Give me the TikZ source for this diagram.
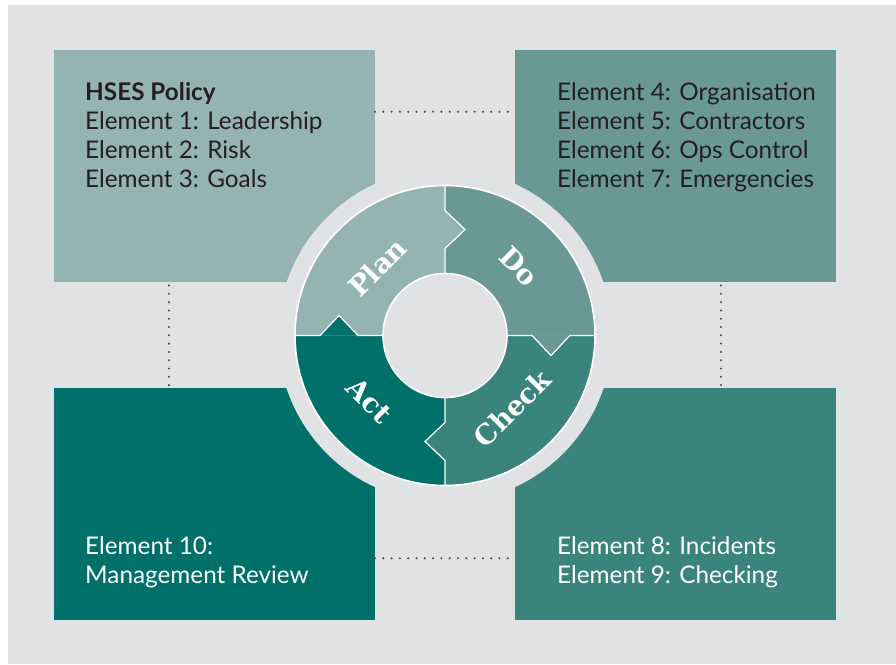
\documentclass[tikz,border=0pt]{standalone}
\usepackage{fontspec}
\setmainfont{Lato}[BoldFont=* Bold]
\newfontfamily\slab{DejaVu Serif}
\usetikzlibrary{calc}

\definecolor{bgc}{HTML}{E1E2E4}
\definecolor{planc}{HTML}{95B3B1}
\definecolor{doc}{HTML}{6A9995}
\definecolor{checkc}{HTML}{3A847D}
\definecolor{actc}{HTML}{00716A}
\definecolor{dotc}{HTML}{4A4A4C}
\definecolor{inkc}{HTML}{231F20}

\begin{document}
\begin{tikzpicture}[x=1pt,y=-1pt,
  box/.style={rectangle, inner sep=0pt, outer sep=0pt, minimum width=321pt,
    minimum height=231.5pt, anchor=north west},
  line/.style={anchor=base west, inner sep=0pt,
    font=\fontsize{24.3}{29}\selectfont},
  stage/.style={text=white, inner sep=0pt,
    font=\slab\bfseries\fontsize{27.5}{27.5}\selectfont},
  dotline/.style={draw=dotc, line width=2.3pt, line cap=round,
    dash pattern=on 0pt off 8.3pt},
  seam/.style={draw=white, line width=1.2pt, line join=miter}
]
% page and backdrop
\useasboundingbox (0,0) rectangle (896,664);
\fill[white] (0,0) rectangle (896,664);
\fill[bgc] (8,5) rectangle (896,664);

% the four element boxes
\node[box, fill=planc]  (tl) at (54,50)    {};
\node[box, fill=doc]    (tr) at (515,50)   {};
\node[box, fill=actc]   (bl) at (54,388)   {};
\node[box, fill=checkc] (br) at (515,388)  {};

% dotted links between the boxes
\draw[dotline] ([yshift=-61.7pt]tl.north east) -- ([yshift=-61.7pt]tr.north west);
\draw[dotline] ([yshift=-170.3pt]bl.north east) -- ([yshift=-170.3pt]br.north west);
\draw[dotline] ([xshift=115pt,yshift=-4pt]tl.south west) -- ([xshift=115pt,yshift=2pt]bl.north west);
\draw[dotline] ([xshift=206pt,yshift=-4pt]tr.south west) -- ([xshift=206pt,yshift=2pt]br.north west);

% box texts
\node[line, text=inkc, font=\bfseries\fontsize{24.3}{29}\selectfont] (p0) at (85,100) {HSES Policy};
\node[line, text=inkc] (p1) at (85,129) {Element 1: Leadership};
\node[line, text=inkc] (p2) at (85,158) {Element 2: Risk};
\node[line, text=inkc] (p3) at (85,187) {Element 3: Goals};

\node[line, text=inkc] (d4) at (557,100) {Element 4: Organisation};
\node[line, text=inkc] (d5) at (557,129) {Element 5: Contractors};
\node[line, text=inkc] (d6) at (557,158) {Element 6: Ops Control};
\node[line, text=inkc] (d7) at (557,187) {Element 7: Emergencies};

\node[line, text=white] (a10) at (85,554) {Element 10:};
\node[line, text=white] (a11) at (85,583) {Management Review};

\node[line, text=white] (c8) at (557,554) {Element 8: Incidents};
\node[line, text=white] (c9) at (557,583) {Element 9: Checking};

% the cycle wheel
\coordinate (C) at (445,335.5);
\fill[bgc] (C) circle[radius=167pt];

\fill[planc] ($(C)+(90:62pt)$) -- ($(C)+(90:150pt)$) arc[start angle=90, end angle=180, radius=150pt]
  -- ($(C)+(180:62pt)$) arc[start angle=180, end angle=90, radius=62pt] -- cycle;
\fill[doc] ($(C)+(0:62pt)$) -- ($(C)+(0:150pt)$) arc[start angle=0, end angle=90, radius=150pt]
  -- ($(C)+(90:62pt)$) arc[start angle=90, end angle=0, radius=62pt] -- cycle;
\fill[checkc] ($(C)+(270:62pt)$) -- ($(C)+(270:150pt)$) arc[start angle=270, end angle=360, radius=150pt]
  -- ($(C)+(0:62pt)$) arc[start angle=360, end angle=270, radius=62pt] -- cycle;
\fill[actc] ($(C)+(180:62pt)$) -- ($(C)+(180:150pt)$) arc[start angle=180, end angle=270, radius=150pt]
  -- ($(C)+(270:62pt)$) arc[start angle=270, end angle=180, radius=62pt] -- cycle;

% puzzle tabs, each stage pushing into the next one clockwise
\fill[planc]  ($(C)+(0pt,125pt)$) -- ($(C)+(20pt,106pt)$) -- ($(C)+(0pt,87pt)$) -- cycle;
\fill[doc]    ($(C)+(125pt,0pt)$) -- ($(C)+(106pt,-20pt)$) -- ($(C)+(87pt,0pt)$) -- cycle;
\fill[checkc] ($(C)+(0pt,-87pt)$) -- ($(C)+(-20pt,-106pt)$) -- ($(C)+(0pt,-125pt)$) -- cycle;
\fill[actc]   ($(C)+(-87pt,0pt)$) -- ($(C)+(-106pt,20pt)$) -- ($(C)+(-125pt,0pt)$) -- cycle;

% seams between the stages
\draw[seam] ($(C)+(0pt,150pt)$) -- ($(C)+(0pt,125pt)$) -- ($(C)+(20pt,106pt)$) -- ($(C)+(0pt,87pt)$) -- ($(C)+(0pt,62pt)$);
\draw[seam] ($(C)+(150pt,0pt)$) -- ($(C)+(125pt,0pt)$) -- ($(C)+(106pt,-20pt)$) -- ($(C)+(87pt,0pt)$) -- ($(C)+(62pt,0pt)$);
\draw[seam] ($(C)+(0pt,-150pt)$) -- ($(C)+(0pt,-125pt)$) -- ($(C)+(-20pt,-106pt)$) -- ($(C)+(0pt,-87pt)$) -- ($(C)+(0pt,-62pt)$);
\draw[seam] ($(C)+(-150pt,0pt)$) -- ($(C)+(-125pt,0pt)$) -- ($(C)+(-106pt,20pt)$) -- ($(C)+(-87pt,0pt)$) -- ($(C)+(-62pt,0pt)$);

\draw[white, line width=1.6pt] (C) circle[radius=150pt];
\node[circle, fill=bgc, draw=white, line width=1.6pt, minimum size=124pt, inner sep=0pt] (hub) at (C) {};

% stage labels
\node[stage, rotate=45]  (plan)  at (377.3,267.3) {Plan};
\node[stage, rotate=-45] (do)    at (519,266.7)   {Do};
\node[stage, rotate=45]  (check) at (512.3,408.3) {Check};
\node[stage, rotate=-45] (act)   at (369.3,400.7) {Act};
\end{tikzpicture}
\end{document}
